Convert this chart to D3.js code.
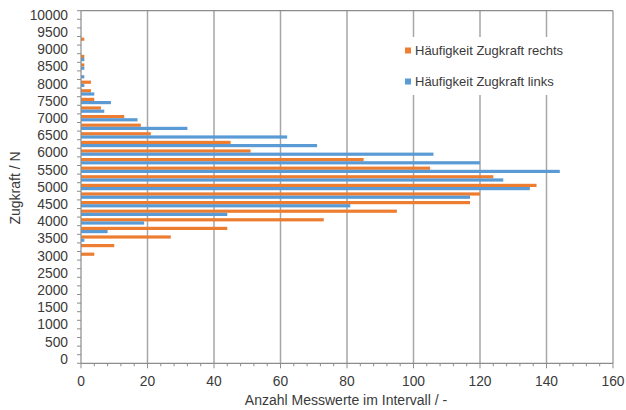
<!DOCTYPE html>
<html><head><meta charset="utf-8">
<script src="https://cdn.jsdelivr.net/npm/d3@7"></script>
<style>body{margin:0;background:#fff}svg{display:block;font-family:"Liberation Sans",Arial,sans-serif}</style>
</head><body><svg id="c" width="626" height="410"></svg>
<script>
const forces = [9250, 9000, 8750, 8500, 8250, 8000, 7750, 7500, 7250, 7000, 6750, 6500, 6250, 6000, 5750, 5500, 5250, 5000, 4750, 4500, 4250, 4000, 3750, 3500, 3250, 3000];
const rechts = [1, 0, 1, 1, 0, 3, 3, 4, 6, 13, 18, 21, 45, 51, 85, 105, 124, 137, 120, 117, 95, 73, 44, 27, 10, 4];
const links  = [0, 0, 1, 1, 1, 1, 4, 9, 7, 17, 32, 62, 71, 106, 120, 144, 127, 135, 117, 81, 44, 19, 8, 1, 0, 0];
const yTicks = [0, 500, 1000, 1500, 2000, 2500, 3000, 3500, 4000, 4500, 5000, 5500, 6000, 6500, 7000, 7500, 8000, 8500, 9000, 9500, 10000];
const xTicks = [0, 20, 40, 60, 80, 100, 120, 140, 160];
const seriesNames = ["Häufigkeit Zugkraft rechts", "Häufigkeit Zugkraft links"];
const colors = ["#ED7D31", "#5B9BD5"];
const binWidth = 250;

const svg = d3.select("#c");
const x = d3.scaleLinear().domain([0, 160]).range([81, 613]);
const y = d3.scaleLinear().domain([-binWidth/2, 10000 + binWidth/2]).range([363.3, 10.7]);
const txt = "#3a3a3a", grid = "#a6a6a6", axisC = "#8c8c8c";

// gridlines
svg.append("g").selectAll("line").data(xTicks.slice(1)).join("line")
  .attr("x1", d => x(d)).attr("x2", d => x(d))
  .attr("y1", y.range()[1]).attr("y2", y.range()[0])
  .attr("stroke", grid).attr("stroke-width", 1.5);
// top border
svg.append("line").attr("x1", x(0)).attr("x2", x(160)).attr("y1", y.range()[1]).attr("y2", y.range()[1])
  .attr("stroke", axisC).attr("stroke-width", 1.2);

// bars
const barH = 3.2;
const g = svg.append("g");
forces.forEach((f, i) => {
  const cy = y(f);
  g.append("rect").attr("x", x(0)).attr("y", cy - barH).attr("width", x(rechts[i]) - x(0)).attr("height", barH).attr("fill", colors[0]);
  g.append("rect").attr("x", x(0)).attr("y", cy).attr("width", x(links[i]) - x(0)).attr("height", barH).attr("fill", colors[1]);
});

// y axis
const yb = d3.range(-binWidth/2, 10000 + binWidth, binWidth);
svg.append("line").attr("x1", x(0)).attr("x2", x(0)).attr("y1", y.range()[1]).attr("y2", y.range()[0]).attr("stroke", axisC).attr("stroke-width", 1.2);
svg.append("g").selectAll("line").data(yb).join("line")
  .attr("x1", x(0) - 4).attr("x2", x(0)).attr("y1", d => y(d)).attr("y2", d => y(d))
  .attr("stroke", axisC).attr("stroke-width", 1);
svg.append("g").selectAll("text").data(yTicks).join("text")
  .attr("x", 68).attr("y", d => y(d)).attr("dy", "0.35em").attr("text-anchor", "end")
  .attr("font-size", 13.8).attr("fill", txt).text(d => d);

// x axis
svg.append("line").attr("x1", x(0)).attr("x2", x(160)).attr("y1", y.range()[0]).attr("y2", y.range()[0]).attr("stroke", axisC).attr("stroke-width", 1.2);
svg.append("g").selectAll("line").data(d3.range(0, 161, 4)).join("line")
  .attr("x1", d => x(d)).attr("x2", d => x(d)).attr("y1", y.range()[0]).attr("y2", d => y.range()[0] + (d % 20 === 0 ? 5 : 3))
  .attr("stroke", axisC).attr("stroke-width", 1);
svg.append("g").selectAll("text").data(xTicks).join("text")
  .attr("x", d => x(d)).attr("y", 381).attr("dy", "0.35em").attr("text-anchor", "middle")
  .attr("font-size", 13.8).attr("fill", txt).text(d => d);

// titles
svg.append("text").attr("x", 346).attr("y", 400).attr("dy", "0.35em").attr("text-anchor", "middle")
  .attr("font-size", 14).attr("fill", txt).text("Anzahl Messwerte im Intervall / -");
svg.append("text").attr("transform", "translate(15,188) rotate(-90)").attr("dy", "0.35em").attr("text-anchor", "middle")
  .attr("font-size", 14).attr("fill", txt).text("Zugkraft / N");

// legend
const lg = svg.append("g");
lg.append("rect").attr("x", 398).attr("y", 37).attr("width", 202).attr("height", 58).attr("fill", "#fff");
seriesNames.forEach((n, i) => {
  const ly = 50.5 + i * 31;
  lg.append("rect").attr("x", 405).attr("y", ly - 3).attr("width", 6).attr("height", 6).attr("fill", colors[i]);
  lg.append("text").attr("x", 415).attr("y", ly).attr("dy", "0.35em").attr("font-size", 13).attr("fill", txt).text(n);
});
</script></body></html>
